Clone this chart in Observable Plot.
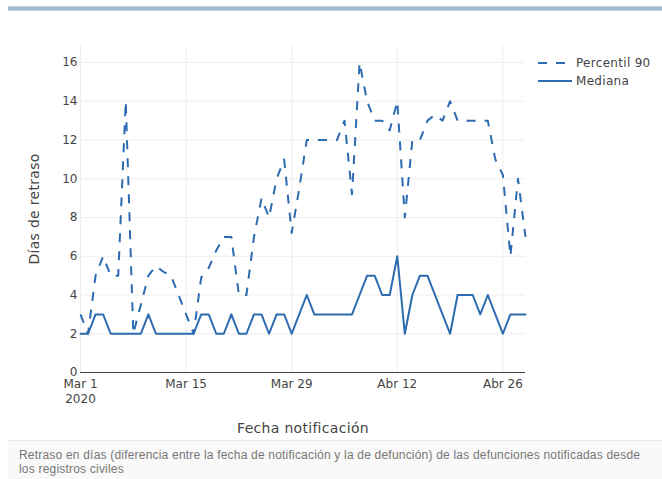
<!DOCTYPE html>
<html>
<head>
<meta charset="utf-8">
<script src="https://cdn.jsdelivr.net/npm/d3@7"></script>
<script src="https://cdn.jsdelivr.net/npm/@observablehq/plot@0.6"></script>
<style>
  body { margin: 0; background: #fff; }
  #wrap { position: relative; width: 662px; height: 479px; overflow: hidden; font-family: "DejaVu Sans", sans-serif; }
  #topbar { position: absolute; left: 8px; top: 6px; width: 654px; height: 3px; background: #9fb7cf; border-top: 1px solid #c6d4e2; border-bottom: 1px solid #c6d4e2; }
  #chart { position: absolute; left: 0; top: 0; }
  #legend { position: absolute; left: 536px; top: 54px; font-size: 12px; color: #444; letter-spacing: 0.3px; }
  #legend .item { display: flex; align-items: center; height: 18px; }
  #legend svg { margin-right: 4px; }
  #caption { position: absolute; left: 8px; top: 440px; width: 654px; height: 39px; background: #f9f9f9; border-top: 1px solid #e8e8e8; box-sizing: border-box; padding: 7px 16px 0 11px; font-family: "Liberation Sans", Arial, sans-serif; font-size: 12px; line-height: 14px; letter-spacing: 0.2px; color: #777; }
</style>
</head>
<body>
<div id="wrap">
  <div id="topbar"></div>
  <div id="chart"></div>
  <div id="legend"></div>
  <div id="caption">Retraso en días (diferencia entre la fecha de notificación y la de defunción) de las defunciones notificadas desde los registros civiles</div>
</div>
<script>
// ---- data ----
const startDate = "2020-03-01";
const endDate = "2020-04-29";
const percentil90 = [3,2,5,6,5,5,14,2,3.5,5, 5.5,5.2,5,4,3,2,4.9,5.4,6.3,7, 7,4,4,7,9,8,10,11,7.2,9.5, 12,12,12,12,12,13,9.2,16,14,13, 13,12.5,14,8,12,12,13,13.3,13,14, 13,13,13,13,13,11,10.2,6,10,7];
const mediana = [2,2,3,3,2,2,2,2,2,3, 2,2,2,2,2,2,3,3,2,2, 3,2,2,3,3,2,3,3,2,3, 4,3,3,3,3,3,3,4,5,5, 4,4,6,2,4,5,5,4,3,2, 4,4,4,3,4,3,2,3,3,3];
const seriesNames = ["Percentil 90", "Mediana"];
const xTickDates = ["2020-03-01", "2020-03-15", "2020-03-29", "2020-04-12", "2020-04-26"];
const xTickLabels = ["Mar 1\n2020", "Mar 15", "Mar 29", "Abr 12", "Abr 26"];
const yTicks = [0, 2, 4, 6, 8, 10, 12, 14, 16];

// ---- build ----
const color = "#2c6bb0";
const dates = d3.utcDay.range(new Date(startDate), d3.utcDay.offset(new Date(endDate), 1));
const p90Rows = dates.map((d, i) => ({date: d, value: percentil90[i]}));
const medRows = dates.map((d, i) => ({date: d, value: mediana[i]}));
const tickDates = xTickDates.map(s => new Date(s));
const labelFor = d => xTickLabels[tickDates.findIndex(t => +t === +d)];

const chart = Plot.plot({
  width: 662,
  height: 440,
  marginLeft: 80,
  marginRight: 137,
  marginTop: 45,
  marginBottom: 68,
  style: {fontFamily: '"DejaVu Sans", sans-serif', fontSize: "12px", color: "#444", background: "transparent", overflow: "visible"},
  x: {type: "utc", domain: [dates[0], dates[dates.length - 1]]},
  y: {domain: [0, 16.88]},
  marks: [
    Plot.gridY(yTicks, {stroke: "#eee", strokeOpacity: 1}),
    Plot.gridX(tickDates, {stroke: "#eee", strokeOpacity: 1}),
    Plot.ruleY([0], {stroke: "#444", strokeWidth: 1}),
    Plot.axisY(yTicks, {tickSize: 0, tickPadding: 3, label: "Días de retraso", labelAnchor: "center", labelArrow: "none", labelOffset: 51}),
    Plot.axisX(tickDates, {tickSize: 0, tickPadding: 4, tickFormat: labelFor, lineHeight: 1.3, label: "Fecha notificación", labelAnchor: "center", labelArrow: "none", labelOffset: 60}),
    Plot.lineY(p90Rows, {x: "date", y: "value", stroke: color, strokeWidth: 2, strokeDasharray: "9,9", strokeLinecap: "butt", strokeLinejoin: "round"}),
    Plot.lineY(medRows, {x: "date", y: "value", stroke: color, strokeWidth: 2, strokeLinejoin: "round"})
  ]
});
document.getElementById("chart").appendChild(chart);
chart.querySelectorAll('[aria-label="x-axis label"], [aria-label="y-axis label"]').forEach(g => { g.setAttribute("font-size", "14px"); g.setAttribute("letter-spacing", "0.3px"); });
chart.querySelectorAll('[aria-label="x-axis label"] text, [aria-label="y-axis label"] text').forEach(t => t.setAttribute("font-size", "14px"));

// ---- legend ----
const legend = document.getElementById("legend");
seriesNames.forEach((name, i) => {
  const item = document.createElement("div");
  item.className = "item";
  item.innerHTML = `<svg width="36" height="10"><line x1="2" x2="36" y1="5" y2="5" stroke="${color}" stroke-width="2" ${i === 0 ? 'stroke-dasharray="9,9"' : ''}/></svg><span>${name}</span>`;
  legend.appendChild(item);
});
</script>
</body>
</html>
